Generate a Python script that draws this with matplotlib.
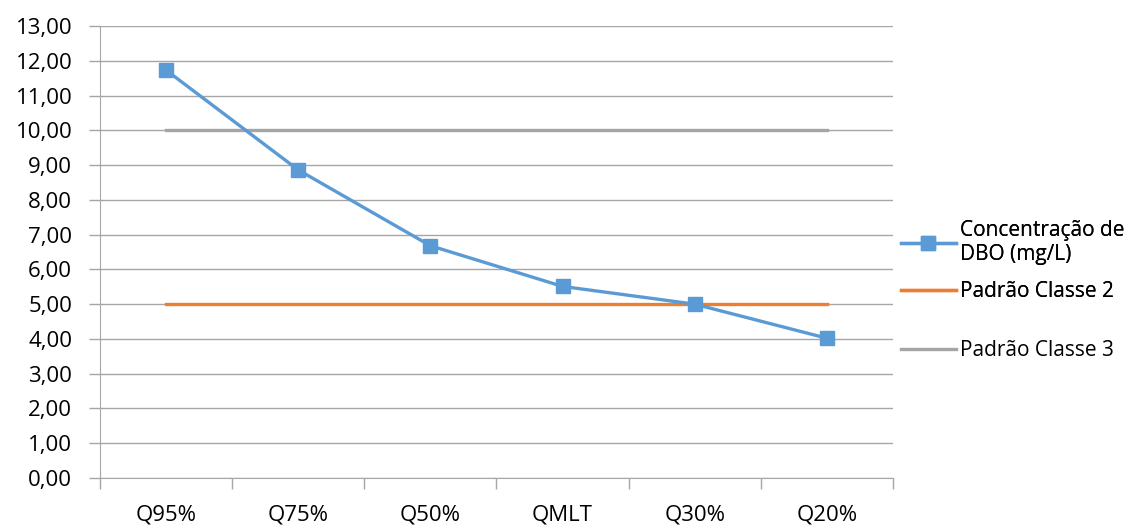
import matplotlib
matplotlib.use("Agg")
import matplotlib.pyplot as plt
from matplotlib.ticker import FuncFormatter, FixedLocator
import numpy as np

categories = ["Q95%", "Q75%", "Q50%", "QMLT", "Q30%", "Q20%"]
dbo = [11.73, 8.86, 6.68, 5.51, 5.00, 4.02]
classe2 = [5, 5, 5, 5, 5, 5]
classe3 = [10, 10, 10, 10, 10, 10]

plt.rcParams['font.family'] = ['Open Sans', 'DejaVu Sans']
fig = plt.figure(figsize=(11.27, 5.28), dpi=100)
ax = fig.add_axes([100/1127, 50/528, 793/1127, 452/528])

x = np.arange(len(categories))
grid_c = "#a6a6a6"
l1, = ax.plot(x, dbo, color="#5B9BD5", lw=2.4, marker="s", ms=10, zorder=5,
              label="Concentração de\nDBO (mg/L)")
l2, = ax.plot(x, classe2, color="#ED7D31", lw=2.4, zorder=4, label="Padrão Classe 2")
l3, = ax.plot(x, classe3, color="#A5A5A5", lw=2.4, zorder=3, label="Padrão Classe 3")

ax.set_xlim(-0.5, len(categories) - 0.5)
ax.set_ylim(0, 13)
ax.set_yticks(np.arange(0, 14, 1))
ax.yaxis.set_major_formatter(FuncFormatter(lambda v, p: f"{v:.2f}".replace(".", ",")))
ax.grid(axis="y", color=grid_c, lw=1)
ax.set_axisbelow(True)

ax.xaxis.set_major_locator(FixedLocator(np.arange(-0.5, len(categories), 1)))
ax.set_xticklabels([])
ax.xaxis.set_minor_locator(FixedLocator(x))
ax.set_xticklabels(categories, minor=True)
ax.tick_params(axis="x", which="major", length=8, color=grid_c, width=1)
ax.tick_params(axis="x", which="minor", length=0, pad=19, labelsize=16)
ax.tick_params(axis="y", length=8, color=grid_c, width=1, pad=12, labelsize=16)

for s in ["top", "right"]:
    ax.spines[s].set_visible(False)
ax.spines["left"].set_color(grid_c)
ax.spines["bottom"].set_color(grid_c)

leg1 = fig.legend(handles=[l1, l2], loc="upper left", bbox_to_anchor=(893/1127, 1 - 212/528),
                  frameon=False, fontsize=15, handlelength=2.6, handletextpad=0.2,
                  labelspacing=0.8, borderaxespad=0)
for t in leg1.get_texts():
    t.set_linespacing(1.15)
leg2 = fig.legend(handles=[l3], loc="center left", bbox_to_anchor=(893/1127, 1 - 351/528),
                  frameon=False, fontsize=15, handlelength=2.6, handletextpad=0.2,
                  borderaxespad=0)
fig.add_artist(leg1)

fig.savefig("out.png", dpi=100)
